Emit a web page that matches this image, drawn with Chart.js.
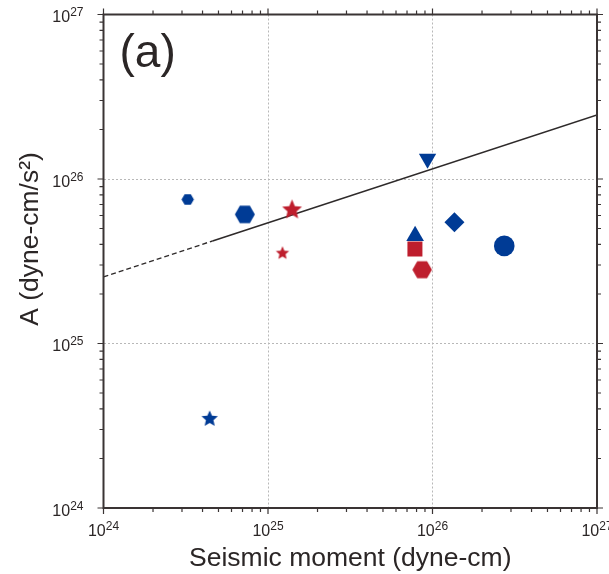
<!DOCTYPE html>
<html>
<head>
<meta charset="utf-8">
<script src="https://cdn.jsdelivr.net/npm/chart.js@4.4.1/dist/chart.umd.min.js"></script>
<style>
  html, body { margin: 0; padding: 0; background: #fff; }
</style>
</head>
<body>
<canvas id="chart" width="609" height="574"></canvas>
<script>
// values (dyne-cm, dyne-cm/s^2)
const eventNames = ['blue small hexagon', 'blue hexagon', 'red star', 'red small star', 'blue inverted triangle',
  'blue diamond', 'blue triangle', 'red square', 'red hexagon', 'blue circle', 'blue star'];
const seismicMoment = [3.25e24, 7.23e24, 1.40e25, 1.225e25, 9.33e25, 1.36e26, 7.84e25, 7.82e25, 8.65e25, 2.73e26, 4.42e24];
const amplitudeA = [7.51e25, 6.09e25, 6.49e25, 3.54e25, 1.327e26, 5.46e25, 4.51e25, 3.76e25, 2.81e25, 3.92e25, 3.48e24];

// reference line, dashed part then solid part
const fitMomentDashed = [1e24, 4.6e24];
const fitADashed = [2.54e25, 4.2e25];
const fitMomentSolid = [4.6e24, 1e27];
const fitASolid = [4.2e25, 2.45e26];

// axis ticks
const decades = [1e24, 1e25, 1e26, 1e27];
const minorMultiples = [2, 3, 4, 5, 6, 7, 8, 9];

const BLUE = '#003b95';
const RED = '#be1e2d';
const INK = '#3a3434';
const FONT = '"Liberation Sans", Arial, Helvetica, sans-serif';

// marker look per event (same order as the arrays above)
const markerStyles = [
  { shape: 'hex', size: 6.2, color: BLUE },
  { shape: 'hex', size: 10, color: BLUE },
  { shape: 'star', size: 10.4, color: RED },
  { shape: 'star', size: 7, color: RED },
  { shape: 'triangle', size: 10, color: BLUE, rotation: 180 },
  { shape: 'rectRot', size: 10, color: BLUE },
  { shape: 'triangle', size: 10.2, color: BLUE },
  { shape: 'rect', size: 10.6, color: RED },
  { shape: 'hex', size: 9.8, color: RED },
  { shape: 'circle', size: 10.3, color: BLUE },
  { shape: 'star', size: 8.6, color: BLUE }
];

function polygonImage(size, color, pts) {
  const c = document.createElement('canvas');
  const w = Math.ceil(size * 2) + 2;
  c.width = w; c.height = w;
  const g = c.getContext('2d');
  g.fillStyle = color;
  g.beginPath();
  pts.forEach((p, i) => {
    const px = w / 2 + p[0], py = w / 2 + p[1];
    if (i === 0) g.moveTo(px, py); else g.lineTo(px, py);
  });
  g.closePath();
  g.fill();
  return c;
}

function hexImage(r, color) {
  const pts = [];
  for (let k = 0; k < 6; k++) {
    const a = k * Math.PI / 3;
    pts.push([r * Math.cos(a), r * Math.sin(a)]);
  }
  return polygonImage(r, color, pts);
}

function starImage(R, color) {
  const pts = [];
  for (let k = 0; k < 10; k++) {
    const a = -Math.PI / 2 + k * Math.PI / 5;
    const rr = k % 2 === 0 ? R : R * 0.46;
    pts.push([rr * Math.cos(a), rr * Math.sin(a)]);
  }
  return polygonImage(R, color, pts);
}

function pointStyleFor(s) {
  if (s.shape === 'hex') return hexImage(s.size, s.color);
  if (s.shape === 'star') return starImage(s.size, s.color);
  return s.shape;
}

const scatterSets = eventNames.map((name, i) => {
  const s = markerStyles[i];
  return {
    type: 'scatter',
    label: name,
    data: [{ x: seismicMoment[i], y: amplitudeA[i] }],
    pointStyle: pointStyleFor(s),
    pointRadius: s.size,
    pointRotation: s.rotation || 0,
    pointBackgroundColor: s.color,
    pointBorderColor: s.color,
    pointBorderWidth: 0,
    order: 0
  };
});

const lineSets = [
  {
    type: 'line',
    label: 'fit (extrapolated)',
    data: fitMomentDashed.map((m, i) => ({ x: m, y: fitADashed[i] })),
    borderColor: '#2e2a2a',
    borderWidth: 1.4,
    borderDash: [5, 3],
    pointRadius: 0,
    order: 5
  },
  {
    type: 'line',
    label: 'fit',
    data: fitMomentSolid.map((m, i) => ({ x: m, y: fitASolid[i] })),
    borderColor: '#2e2a2a',
    borderWidth: 1.6,
    pointRadius: 0,
    order: 5
  }
];

function allTicks() {
  const ticks = [];
  decades.forEach((d, i) => {
    ticks.push({ value: d, major: true });
    if (i < decades.length - 1) minorMultiples.forEach(m => ticks.push({ value: d * m, major: false }));
  });
  return ticks;
}

function isInnerDecade(v) {
  return decades.indexOf(v) > 0 && decades.indexOf(v) < decades.length - 1;
}

const gridOpts = {
  color: ctx => (ctx.tick && isInnerDecade(ctx.tick.value)) ? '#b8b8b8' : 'rgba(0,0,0,0)',
  lineWidth: 1,
  drawTicks: false
};

function drawPower(ctx, exp, x, y, align) {
  ctx.font = '16px ' + FONT;
  const wb = ctx.measureText('10').width;
  ctx.font = '12px ' + FONT;
  const we = ctx.measureText(exp).width;
  const x0 = align === 'center' ? x - (wb + we) / 2 : x - (wb + we);
  ctx.textAlign = 'left';
  ctx.textBaseline = 'alphabetic';
  ctx.font = '16px ' + FONT;
  ctx.fillText('10', x0, y);
  ctx.font = '12px ' + FONT;
  ctx.fillText(exp, x0 + wb, y - 6);
}

const framePlugin = {
  id: 'frame',
  afterDraw(chart) {
    const { ctx, chartArea: a } = chart;
    const x = chart.scales.x, y = chart.scales.y;
    ctx.save();
    ctx.strokeStyle = INK;
    ctx.lineWidth = 1.2;
    ctx.beginPath();
    x.ticks.forEach(t => {
      const px = x.getPixelForValue(t.value);
      const len = t.major ? 6 : 4;
      ctx.moveTo(px, a.bottom); ctx.lineTo(px, a.bottom + len);
      ctx.moveTo(px, a.top); ctx.lineTo(px, a.top - len);
    });
    y.ticks.forEach(t => {
      const py = y.getPixelForValue(t.value);
      const len = t.major ? 6 : 4;
      ctx.moveTo(a.left, py); ctx.lineTo(a.left - len, py);
      ctx.moveTo(a.right, py); ctx.lineTo(a.right + len, py);
    });
    ctx.stroke();

    ctx.lineWidth = 2;
    ctx.strokeRect(a.left, a.top, a.right - a.left, a.bottom - a.top);

    // tick labels 10^n
    ctx.fillStyle = '#2b2626';
    x.ticks.filter(t => t.major).forEach(t => {
      const exp = String(Math.round(Math.log10(t.value)));
      drawPower(ctx, exp, x.getPixelForValue(t.value), a.bottom + 27.5, 'center');
    });
    y.ticks.filter(t => t.major).forEach(t => {
      const exp = String(Math.round(Math.log10(t.value)));
      drawPower(ctx, exp, a.left - 20, y.getPixelForValue(t.value) + 7.5, 'right');
    });

    // y-axis title
    ctx.save();
    ctx.translate(38, 239);
    ctx.rotate(-Math.PI / 2);
    ctx.font = '26.5px ' + FONT;
    ctx.textAlign = 'center';
    ctx.textBaseline = 'alphabetic';
    ctx.fillText('A (dyne-cm/s²)', 0, 0);
    ctx.restore();

    // panel letter
    ctx.font = '46px ' + FONT;
    ctx.textAlign = 'left';
    ctx.textBaseline = 'alphabetic';
    ctx.fillText('(a)', a.left + 16, a.top + 52.5);
    ctx.restore();
  }
};

new Chart(document.getElementById('chart'), {
  data: { datasets: [...lineSets, ...scatterSets] },
  options: {
    responsive: false,
    animation: false,
    layout: { padding: { left: 0, right: 12, top: 14.5, bottom: 0 } },
    plugins: { legend: { display: false }, tooltip: { enabled: false } },
    scales: {
      x: {
        type: 'logarithmic',
        position: 'bottom',
        min: 1e24,
        max: 1e27,
        afterBuildTicks: scale => { scale.ticks = allTicks(); },
        afterFit: scale => { scale.height = 66; scale.paddingLeft = 0; scale.paddingRight = 0; },
        ticks: { display: false },
        grid: gridOpts,
        border: { display: false, dash: [2, 2] },
        title: {
          display: true,
          text: 'Seismic moment (dyne-cm)',
          color: '#2b2626',
          font: { family: FONT, size: 26.5 },
          padding: { top: 0, bottom: -1 }
        }
      },
      y: {
        type: 'logarithmic',
        position: 'left',
        min: 1e24,
        max: 1e27,
        afterBuildTicks: scale => { scale.ticks = allTicks(); },
        afterFit: scale => { scale.width = 103.5; scale.paddingTop = 0; scale.paddingBottom = 0; },
        ticks: { display: false },
        grid: gridOpts,
        border: { display: false, dash: [2, 2] }
      }
    }
  },
  plugins: [framePlugin]
});
</script>
</body>
</html>
